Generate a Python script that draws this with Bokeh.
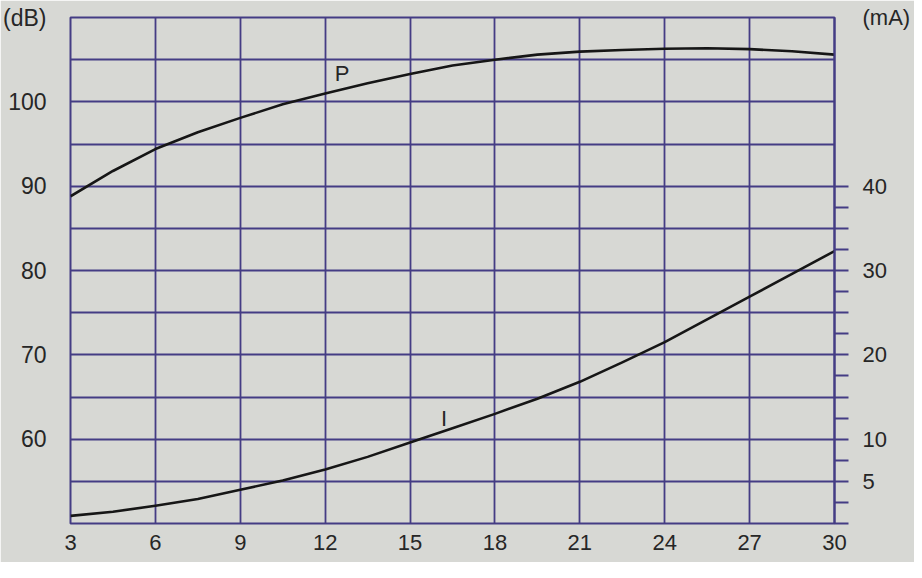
from bokeh.plotting import figure
from bokeh.models import LinearAxis, Range1d, FixedTicker, Label
from bokeh.embed import file_html
from bokeh.resources import INLINE

# ---- data ----
x_vals = [3, 4.5, 6, 7.5, 9, 10.5, 12, 13.5, 15, 16.5, 18, 19.5, 21, 22.5, 24, 25.5, 27, 28.5, 30]
p_db = [88.8, 91.8, 94.4, 96.4, 98.1, 99.7, 101.0, 102.2, 103.3, 104.3, 105.0, 105.6,
        105.95, 106.15, 106.3, 106.35, 106.25, 106.0, 105.6]
i_ma = [0.9, 1.4, 2.1, 2.9, 4.0, 5.1, 6.4, 7.9, 9.6, 11.3, 13.0, 14.8, 16.8, 19.1,
        21.5, 24.2, 26.9, 29.6, 32.3]

x_ticks = [3, 6, 9, 12, 15, 18, 21, 24, 27, 30]
db_ticks = [60, 70, 80, 90, 100, 110]
db_grid = [50, 55, 60, 65, 70, 75, 80, 85, 90, 95, 100, 105, 110]
ma_ticks = [5, 10, 20, 30, 40, 60]
ma_marks = [0, 2.5, 5, 7.5, 10, 12.5, 15, 17.5, 20, 22.5, 25, 27.5, 30, 32.5, 35, 37.5, 40]
db_unit = "(dB)"
ma_unit = "(mA)"

BG = "#d7d8d4"
GRID = "#443c84"
INK = "#262626"
FONT = "Liberation Sans"

p = figure(width=914, height=562, x_range=Range1d(3, 30), y_range=Range1d(50, 110),
           output_backend="svg", toolbar_location=None,
           min_border_left=69, min_border_right=80, min_border_top=17, min_border_bottom=39)
p.extra_y_ranges = {"mA": Range1d(0, 60)}

p.background_fill_color = BG
p.border_fill_color = BG
p.outline_line_color = GRID
p.outline_line_width = 2

# grids
p.xgrid.ticker = FixedTicker(ticks=x_ticks)
p.ygrid.ticker = FixedTicker(ticks=db_grid)
for g in (p.xgrid, p.ygrid):
    g.grid_line_color = GRID
    g.grid_line_width = 1.8
    g.grid_line_alpha = 1.0

# bottom axis
xa = p.xaxis[0]
xa.ticker = FixedTicker(ticks=x_ticks)
xa.axis_line_color = None
xa.major_tick_out = 0
xa.major_tick_in = 0
xa.minor_tick_out = 0
xa.major_label_standoff = 11
xa.major_label_text_font = FONT
xa.major_label_text_font_size = "22px"
xa.major_label_text_color = INK

# left axis (dB), the unit sits as the label of the top tick
ya = p.yaxis[0]
ya.ticker = FixedTicker(ticks=db_ticks)
ya.major_label_overrides = {110: db_unit}
ya.axis_line_color = None
ya.major_tick_out = 0
ya.major_tick_in = 0
ya.minor_tick_out = 0
ya.major_label_standoff = 24
ya.major_label_text_font = FONT
ya.major_label_text_font_size = "23px"
ya.major_label_text_color = INK

# right axis (mA): visible marks are drawn as minor ticks, labels by (invisible) major ticks
ra = LinearAxis(y_range_name="mA", ticker=FixedTicker(ticks=ma_ticks, minor_ticks=ma_marks))
ra.major_label_overrides = {60: ma_unit}
ra.axis_line_color = GRID
ra.axis_line_width = 2
ra.major_tick_line_color = None
ra.major_tick_out = 0
ra.major_tick_in = 0
ra.minor_tick_line_color = GRID
ra.minor_tick_line_width = 1.8
ra.minor_tick_out = 14
ra.minor_tick_in = 0
ra.major_label_standoff = 14
ra.major_label_text_font = FONT
ra.major_label_text_font_size = "22px"
ra.major_label_text_color = INK
p.add_layout(ra, "right")

# curves
p.line(x_vals, p_db, line_color="#161616", line_width=2.6, line_join="round")
p.line(x_vals, i_ma, y_range_name="mA", line_color="#161616", line_width=2.6, line_join="round")

# curve labels
p.add_layout(Label(x=12.6, y=103.4, text="P", text_align="center", text_baseline="middle",
                   text_font=FONT, text_font_size="22px", text_color=INK))
p.add_layout(Label(x=16.2, y=12.5, y_range_name="mA", text="I", text_align="center",
                   text_baseline="middle", text_font=FONT, text_font_size="22px", text_color=INK))

open("out.html", "w").write(file_html(p, INLINE))
